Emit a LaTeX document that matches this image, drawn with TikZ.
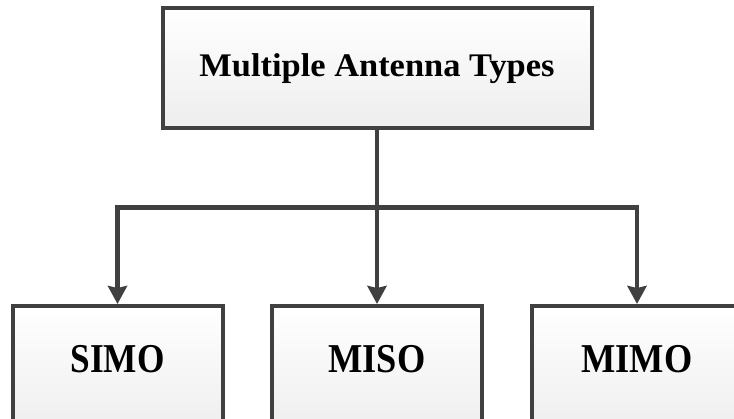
\documentclass[tikz,border=0pt]{standalone}
\usepackage{fontspec}
\setmainfont{Liberation Serif}
\usetikzlibrary{arrows.meta}
\definecolor{edge}{HTML}{404040}
% stretch a label to a given width, keeping its natural height
\newcommand\fitw[2]{\resizebox{#1}{\height}{#2}}
\begin{document}
\begin{tikzpicture}[x=1pt,y=-1pt,
  box/.style={draw=edge, line width=4pt, top color=white, bottom color=black!7,
    inner sep=0pt, font=\bfseries},
  topbox/.style={box, minimum width=429pt, minimum height=120pt,
    text height=24pt, text depth=8pt, font=\fontsize{33}{36}\selectfont\bfseries},
  leafbox/.style={box, minimum width=210pt, minimum height=130pt,
    text height=28pt, text depth=24pt, font=\fontsize{41}{44}\selectfont\bfseries},
  link/.style={draw=edge, line width=4.4pt,
    -{Stealth[length=18pt,width=19pt,inset=2pt]}}]
  \clip (0,0) rectangle (734,419);

  \node[topbox] (types) at (377,68.5) {\fitw{355pt}{Multiple Antenna Types}};
  \node[leafbox] (simo) at (117.5,371) {\fitw{94pt}{SIMO}};
  \node[leafbox] (miso) at (377,371) {\fitw{97pt}{MISO}};
  \node[leafbox] (mimo) at (637,371) {\fitw{111pt}{MIMO}};

  \coordinate (split) at (377,207.5);
  \draw[link] (types.south) -- (miso.north);
  \draw[link] (split) -| (simo.north);
  \draw[link] (split) -| (mimo.north);
\end{tikzpicture}
\end{document}
